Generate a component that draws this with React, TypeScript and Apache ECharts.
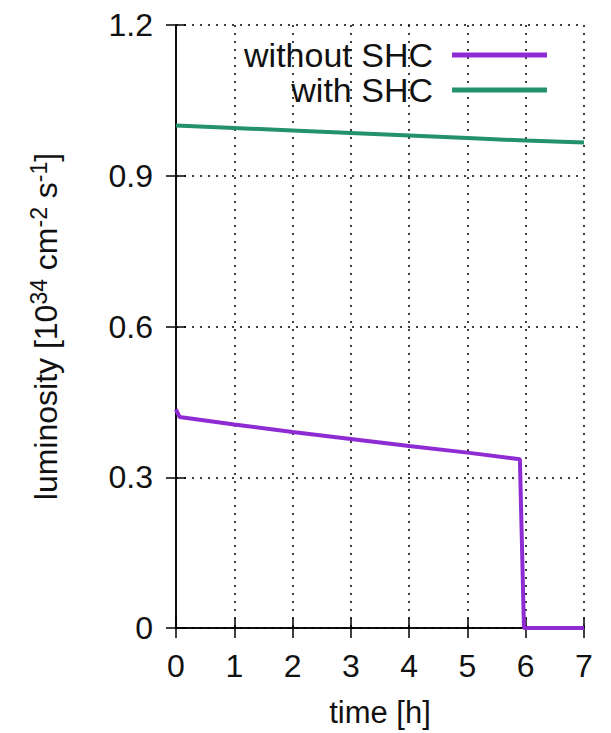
import React, { useEffect, useRef } from "react";
import * as echarts from "echarts";

const timeWithout = [0, 0.06, 1, 2, 3, 4, 5, 5.9, 5.97, 7];
const lumWithout = [0.435, 0.42, 0.405, 0.39, 0.376, 0.362, 0.349, 0.336, 0, 0];
const timeWith = [0, 1, 2, 3, 4, 5, 6, 7];
const lumWith = [1.0, 0.995, 0.99, 0.985, 0.98, 0.975, 0.97, 0.966];
const seriesNames = ["without SHC", "with SHC"];
const colors = ["#8f2bd3", "#22916c"];

const FONT = "Liberation Sans, Arial, sans-serif";

export default function App() {
  const ref = useRef<HTMLDivElement>(null);
  useEffect(() => {
    if (!ref.current) return;
    const chart = echarts.init(ref.current, null, { renderer: "svg" });
    const gridLine = { show: true, lineStyle: { color: "#000", width: 1.5, type: [2, 6] as any } };
    const tickIn = { show: true, inside: true, length: 10, lineStyle: { color: "#000", width: 1.5 } };
    const axisLine = { show: true, lineStyle: { color: "#000", width: 1.5 } };
    const labelStyle = { fontFamily: FONT, fontSize: 32, color: "#111" };
    const legendText = { fontFamily: FONT, fontSize: 34, color: "#111", padding: [0, 14, 0, 0] };
    chart.setOption({
      animation: false,
      backgroundColor: "#fff",
      grid: { left: 176, right: 27, top: 25, bottom: 105, containLabel: false },
      legend: [
        {
          data: [seriesNames[0]],
          right: 64,
          top: 38,
          padding: 0,
          align: "right",
          icon: "rect",
          itemWidth: 95,
          itemHeight: 5,
          textStyle: legendText,
        },
        {
          data: [seriesNames[1]],
          right: 64,
          top: 73,
          padding: 0,
          align: "right",
          icon: "rect",
          itemWidth: 95,
          itemHeight: 5,
          textStyle: legendText,
        },
      ],
      xAxis: [
        {
          type: "value",
          min: 0,
          max: 7,
          interval: 1,
          position: "bottom",
          axisLine,
          axisTick: tickIn,
          splitLine: gridLine,
          axisLabel: { ...labelStyle, margin: 22 },
          name: "time [h]",
          nameLocation: "middle",
          nameGap: 69,
          nameTextStyle: { fontFamily: FONT, fontSize: 31, color: "#111" },
        },
        {
          type: "value",
          min: 0,
          max: 7,
          interval: 1,
          position: "top",
          axisLine,
          axisTick: tickIn,
          splitLine: { show: false },
          axisLabel: { show: false },
        },
      ],
      yAxis: [
        {
          type: "value",
          min: 0,
          max: 1.2,
          interval: 0.3,
          position: "left",
          axisLine,
          axisTick: tickIn,
          splitLine: gridLine,
          axisLabel: {
            ...labelStyle,
            margin: 23,
            formatter: (v: number) => (v === 0 ? "0" : v.toFixed(1)),
          },
          name: "luminosity [10{sup|34} cm{sup|-2} s{sup|-1}]",
          nameLocation: "middle",
          nameGap: 112,
          nameRotate: 90,
          nameTextStyle: {
            fontFamily: FONT,
            fontSize: 32,
            color: "#111",
            rich: {
              sup: { fontFamily: FONT, fontSize: 23, color: "#111", verticalAlign: "top", padding: [0, 0, 14, 0] },
            },
          },
        },
        {
          type: "value",
          min: 0,
          max: 1.2,
          interval: 0.3,
          position: "right",
          axisLine,
          axisTick: tickIn,
          splitLine: { show: false },
          axisLabel: { show: false },
        },
      ],
      series: [
        {
          name: seriesNames[0],
          type: "line",
          data: timeWithout.map((t, i) => [t, lumWithout[i]]),
          showSymbol: false,
          lineStyle: { color: colors[0], width: 4 },
          itemStyle: { color: colors[0] },
        },
        {
          name: seriesNames[1],
          type: "line",
          data: timeWith.map((t, i) => [t, lumWith[i]]),
          showSymbol: false,
          lineStyle: { color: colors[1], width: 4 },
          itemStyle: { color: colors[1] },
        },
      ],
    });
    return () => chart.dispose();
  }, []);
  return <div ref={ref} style={{ width: 611, height: 733, marginLeft: -8, marginTop: -8 }} />;
}
